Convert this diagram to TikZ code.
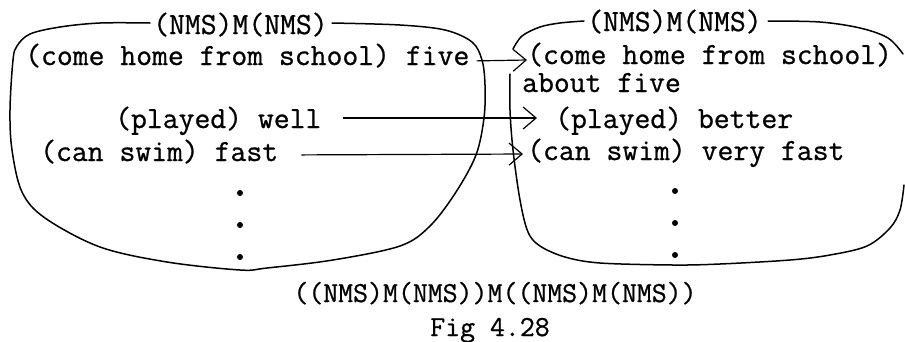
\documentclass[tikz,border=0pt]{standalone}
\usepackage{fontspec}
\newfontfamily\tw[FakeBold=0.8]{Latin Modern Mono}
\usetikzlibrary{arrows.meta}
\tikzset{
  txt/.style={anchor=base west, inner sep=0pt, font=\tw\fontsize{30.8}{34}\selectfont},
  btxt/.style={anchor=base, inner sep=0pt, font=\tw\fontsize{29}{34}\selectfont},
  bubble/.style={line width=1.5pt, line cap=round, line join=round},
  arr/.style={line width=1.2pt, -{Straight Barb[length=13pt,width=22pt,line width=1.2pt]}},
  dotn/.style={circle, fill, inner sep=0pt, minimum size=6pt}
}
\begin{document}
\begin{tikzpicture}[x=1pt,y=-1pt]
\useasboundingbox (0,0) rectangle (905,341);
% left bubble texts
\node[txt] (ll) at (153,34) {(NMS)M(NMS)};
\node[txt] (l1) at (25,65) {(come home from school) five};
\node[txt] (l2) at (115,128) {(played) well};
\node[txt] (l3) at (40,161) {(can swim) fast};
\node[dotn] (ld1) at (240,193) {};
\node[dotn] (ld2) at (240,225) {};
\node[dotn] (ld3) at (240,257) {};
% right bubble texts
\node[txt] (rl) at (587,31) {(NMS)M(NMS)};
\node[txt] (r1) at (527,64) {(come home from school)};
\node[txt] (r1b) at (522,92) {about five};
\node[txt] (r2) at (555,128) {(played) better};
\node[txt] (r3) at (527,160) {(can swim) very fast};
\node[dotn] (rd1) at (675,191) {};
\node[dotn] (rd2) at (675,223) {};
\node[dotn] (rd3) at (675,255) {};
% bottom
\node[btxt] (b1) at (495,302) {((NMS)M(NMS))M((NMS)M(NMS))};
\node[btxt] (fig) at (490,336) {Fig 4.28};
% left bubble outline
\draw[bubble] plot[smooth, tension=0.55] coordinates {
  (332,23) (400,25) (445,30) (472,42) (482,60) (485,85) (484,118)
  (476,155) (456,192) (430,226) (400,246) (333,260) (267,268) (240,270)
  (167,262) (100,247) (45,218) (22,192) (12,150) (10,110) (13,60) (17,46)
  (30,34) (60,27) (100,23) (150,23)};
% right bubble outline
\draw[bubble] plot[smooth, tension=0.55] coordinates {
  (513,49) (522,36) (540,27) (560,23) (584,21)};
\draw[bubble] plot[smooth, tension=0.55] coordinates {
  (768,21) (820,22) (860,28) (888,38) (903,54)};
\draw[bubble] plot[smooth, tension=0.55] coordinates {
  (904,185) (900,210) (890,228) (867,246) (830,255) (790,260) (720,264)
  (673,265) (600,263) (565,257) (540,246) (528,232) (520,200) (513,150)
  (510,110) (510,74)};
% arrows
\draw[arr, shorten <=7pt] ([yshift=4pt]l1.base east) -- ([yshift=4pt]r1.base west);
\draw[arr, shorten <=21pt, shorten >=18pt] ([yshift=10pt]l2.base east) -- ([yshift=10pt]r2.base west);
\draw[arr, shorten <=23pt, shorten >=4pt] ([yshift=6pt]l3.base east) -- ([yshift=6pt]r3.base west);
\end{tikzpicture}
\end{document}
